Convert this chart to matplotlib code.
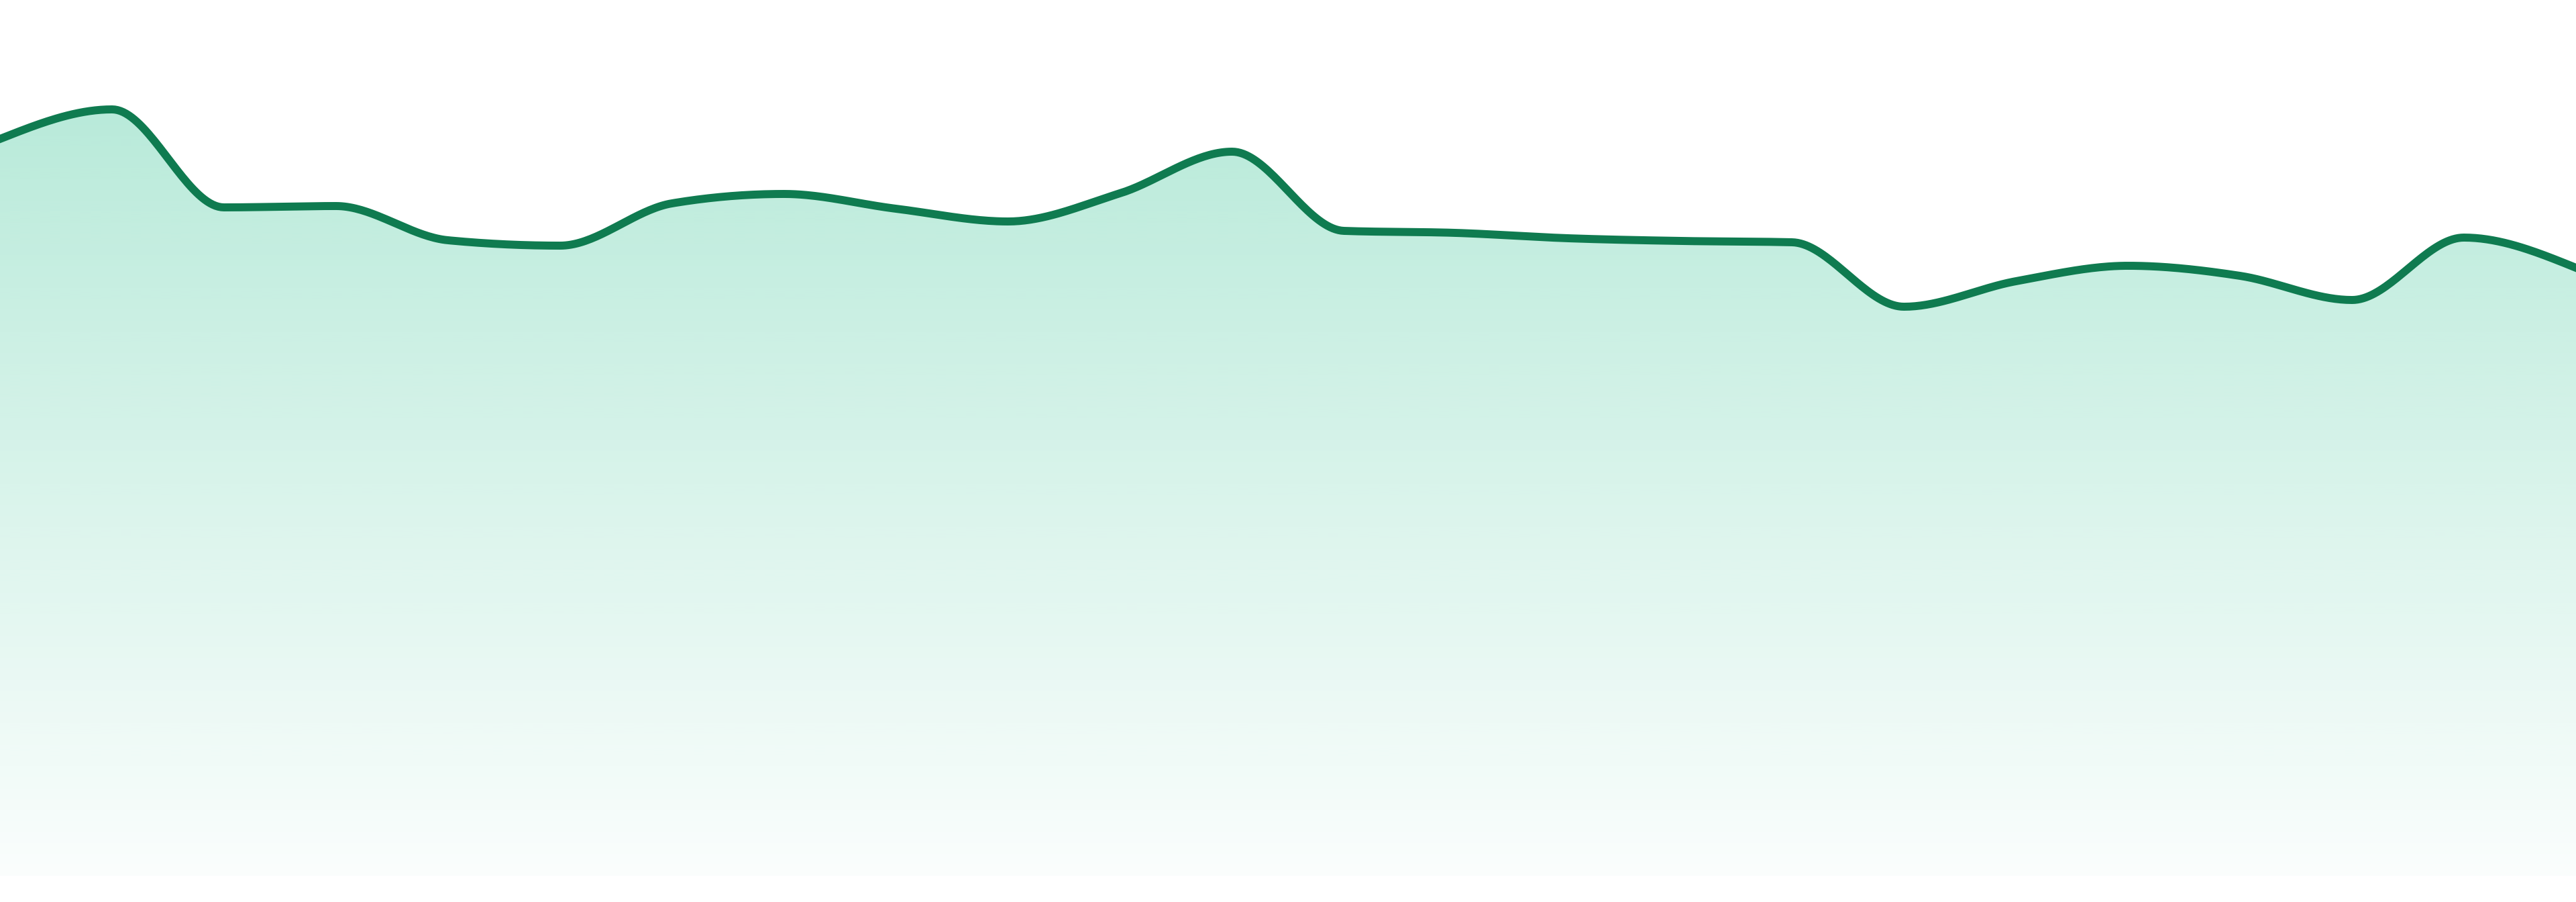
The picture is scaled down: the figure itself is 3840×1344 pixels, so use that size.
import numpy as np
import matplotlib
matplotlib.use("Agg")
import matplotlib.pyplot as plt
from matplotlib.patches import Polygon

# ---- data (24 evenly spaced samples) ----
x_index = list(range(24))
values = [109.8, 114.2, 99.6, 99.8, 94.7, 93.9, 100.2, 101.6, 99.4, 97.5,
          101.7, 107.9, 96.1, 95.8, 95.0, 94.6, 94.4, 84.8, 88.6, 90.9,
          89.4, 85.8, 95.1, 90.6]

line_color = "#0f7b50"
fill_rgb = (16 / 255, 185 / 255, 129 / 255)


def monotone_x(xs, ys, n=40):
    xs = np.asarray(xs, float)
    ys = np.asarray(ys, float)
    h = np.diff(xs)
    s = np.diff(ys) / h
    m = np.zeros_like(ys)
    for i in range(1, len(ys) - 1):
        s0, s1 = s[i - 1], s[i]
        p = (s0 * h[i] + s1 * h[i - 1]) / (h[i - 1] + h[i])
        m[i] = (np.sign(s0) + np.sign(s1)) * min(abs(s0), abs(s1), 0.5 * abs(p))
    m[0] = (3 * s[0] - m[1]) / 2
    m[-1] = (3 * s[-1] - m[-2]) / 2
    px, py = [], []
    for i in range(len(xs) - 1):
        t = np.linspace(0, 1, n, endpoint=(i == len(xs) - 2))
        h00 = 2 * t**3 - 3 * t**2 + 1
        h10 = t**3 - 2 * t**2 + t
        h01 = -2 * t**3 + 3 * t**2
        h11 = t**3 - t**2
        px.append(xs[i] + t * h[i])
        py.append(h00 * ys[i] + h10 * h[i] * m[i] + h01 * ys[i + 1] + h11 * h[i] * m[i + 1])
    return np.concatenate(px), np.concatenate(py)


cx, cy = monotone_x(x_index, values)

fig = plt.figure(figsize=(38.4, 13.44), dpi=100)
ax = fig.add_axes([0, 0, 1, 1])
ax.set_xlim(x_index[0], x_index[-1])
ax.set_ylim(-3.9, 130.5)
ax.axis("off")

# gradient fill clipped to the area under the curve
ymax = max(values)
grad_n = 256
alphas = np.linspace(0.30, 0.02, grad_n)[:, None]
img = np.zeros((grad_n, 1, 4))
img[..., 0] = fill_rgb[0]
img[..., 1] = fill_rgb[1]
img[..., 2] = fill_rgb[2]
img[..., 3] = alphas
im = ax.imshow(img, extent=[x_index[0], x_index[-1], 0, ymax + 2], origin="upper",
               aspect="auto", interpolation="bilinear", zorder=1)
poly_xy = np.column_stack([np.r_[cx, cx[-1], cx[0]], np.r_[cy, 0, 0]])
poly = Polygon(poly_xy, closed=True, facecolor="none", edgecolor="none")
ax.add_patch(poly)
im.set_clip_path(poly)

ax.plot(cx, cy, color=line_color, lw=8.6, solid_joinstyle="round", zorder=3)

fig.savefig("out.png", dpi=100, facecolor="white")
